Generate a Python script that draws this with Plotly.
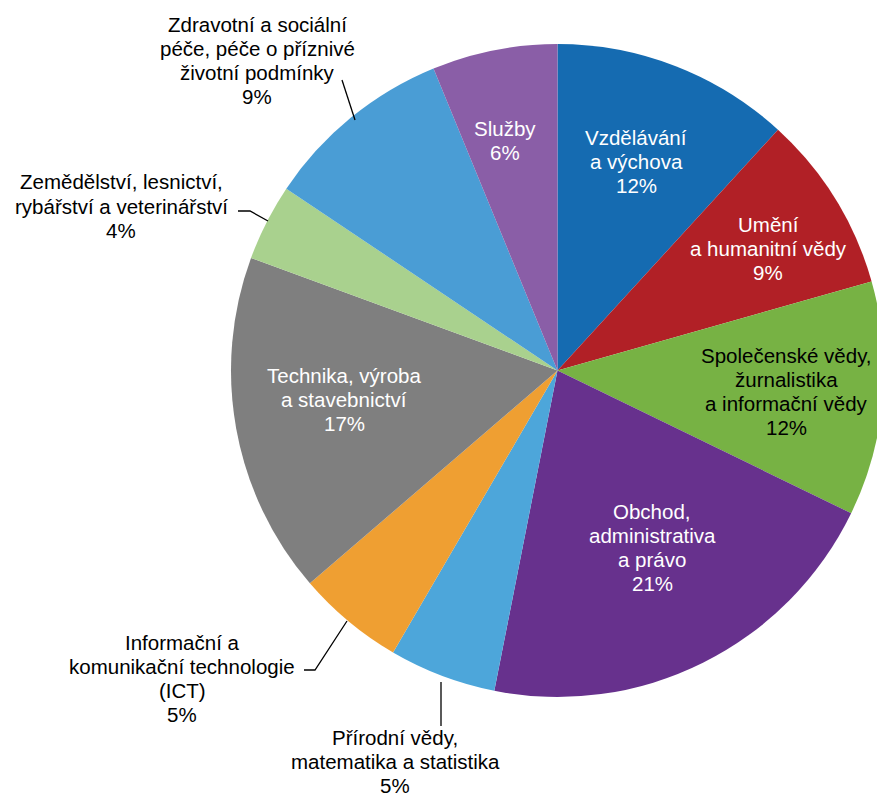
import plotly.graph_objects as go

# ---- data ----
categories = [
    "Vzdělávání a výchova",
    "Umění a humanitní vědy",
    "Společenské vědy, žurnalistika a informační vědy",
    "Obchod, administrativa a právo",
    "Přírodní vědy, matematika a statistika",
    "Informační a komunikační technologie (ICT)",
    "Technika, výroba a stavebnictví",
    "Zemědělství, lesnictví, rybářství a veterinářství",
    "Zdravotní a sociální péče, péče o příznivé životní podmínky",
    "Služby",
]
values = [11.8, 8.8, 11.6, 20.9, 5.3, 5.3, 16.9, 3.8, 9.4, 6.2]
label_lines = [
    ["Vzdělávání", "a výchova"],
    ["Umění", "a humanitní vědy"],
    ["Společenské vědy,", "žurnalistika", "a informační vědy"],
    ["Obchod,", "administrativa", "a právo"],
    ["Přírodní vědy,", "matematika a statistika"],
    ["Informační a", "komunikační technologie", "(ICT)"],
    ["Technika, výroba", "a stavebnictví"],
    ["Zemědělství, lesnictví,", "rybářství a veterinářství"],
    ["Zdravotní a sociální", "péče, péče o příznivé", "životní podmínky"],
    ["Služby"],
]

# ---- style / layout ----
colors = ["#156BB1", "#B12026", "#77B244", "#67318D", "#4DA6DA",
          "#EF9F32", "#7F7F7F", "#A9D18E", "#4A9DD5", "#8A5EA7"]
text_colors = ["white", "white", "black", "white", "black",
               "black", "white", "black", "black", "white"]
# label block anchor (center x, first-line center y) in pixels
label_pos = [(636, 137), (768, 224), (786, 355), (652, 511), (395, 737),
             (182, 642), (344, 375), (121, 182), (257, 24), (505, 128)]
line_gap = 24.2
FONT = "Liberation Sans, Arial, sans-serif"
FS = 20.5

W, H = 900, 796
def px(x):
    return x / W
def py(y):
    return 1 - y / H

fig = go.Figure(go.Pie(
    labels=categories,
    values=values,
    sort=False,
    direction="clockwise",
    rotation=0,
    textinfo="none",
    hoverinfo="label+percent",
    marker=dict(colors=colors, line=dict(width=0)),
    domain=dict(x=[px(231), px(884)], y=[py(697), py(44)]),
    showlegend=False,
))

annotations = []
for lines, v, (cx, cy), tc in zip(label_lines, values, label_pos, text_colors):
    all_lines = lines + [f"{int(v + 0.5)}%"]
    for i, t in enumerate(all_lines):
        annotations.append(dict(
            x=px(cx), y=py(cy + i * line_gap), xref="paper", yref="paper",
            text=t, showarrow=False, xanchor="center", yanchor="middle",
            borderpad=0,
            font=dict(family=FONT, size=FS, color=tc),
        ))

leaders = [
    [(342, 80), (355, 120)],
    [(238, 211), (250, 211), (268, 221)],
    [(304, 670), (315, 670), (347, 621)],
    [(441, 682), (441, 726)],
]
shapes = []
for pts in leaders:
    path = "M " + " L ".join(f"{px(x)},{py(y)}" for x, y in pts)
    shapes.append(dict(type="path", path=path, xref="paper", yref="paper",
                       line=dict(color="black", width=1.3)))

fig.update_layout(
    width=W, height=H, autosize=False,
    margin=dict(l=0, r=0, t=0, b=0),
    paper_bgcolor="white", plot_bgcolor="white",
    annotations=annotations, shapes=shapes,
    font=dict(family=FONT, size=FS),
)

fig.write_html("out.html", config={"displayModeBar": False},
               post_script="document.body.style.margin='0';document.body.style.overflow='hidden';")
